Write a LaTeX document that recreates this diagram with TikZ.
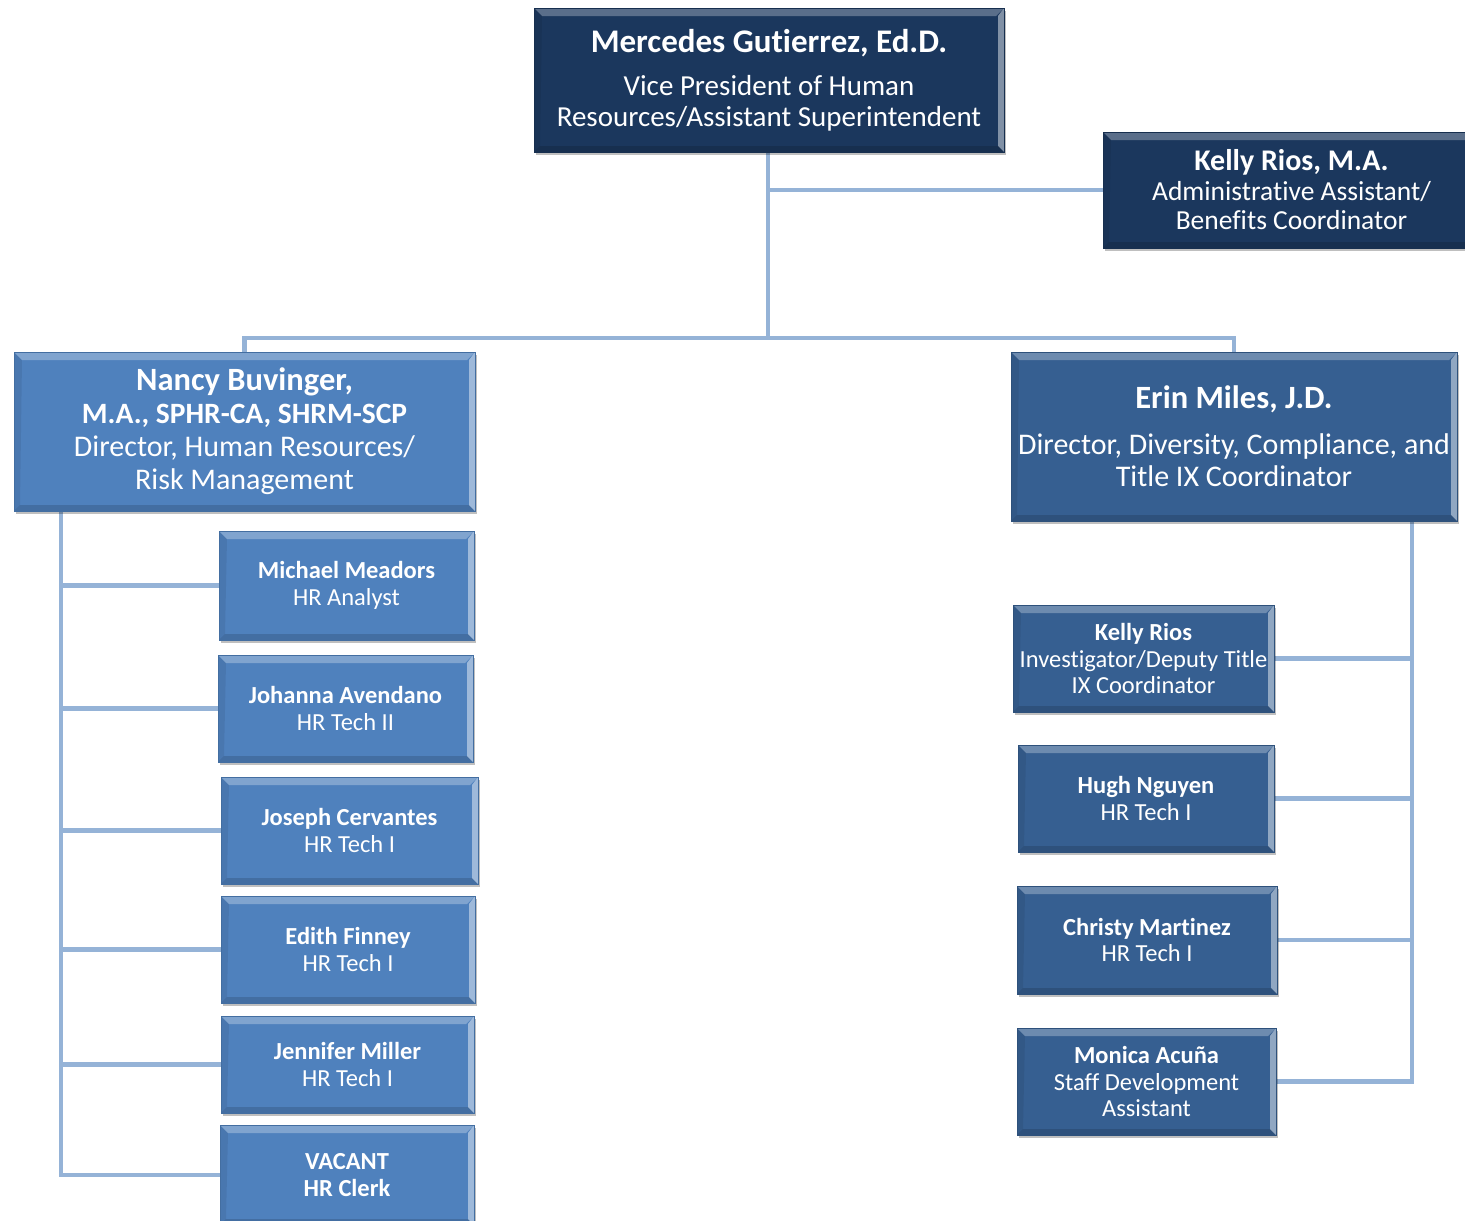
\documentclass[tikz,border=0pt]{standalone}
\usepackage{fontspec}
\setmainfont[Ligatures=NoCommon]{Carlito}
\usetikzlibrary{shadows,backgrounds}
\definecolor{navy}{RGB}{27,55,93}
\definecolor{midblue}{RGB}{79,129,189}
\definecolor{darkblue}{RGB}{54,95,145}
\definecolor{conncol}{RGB}{149,179,215}
\tikzset{
  bevelbox/.style={rectangle, inner sep=0pt, text=white, align=center,
    draw=#1!85!black, line width=0.6pt, fill=#1,
    drop shadow={shadow xshift=2pt, shadow yshift=-3pt, opacity=0.25, fill=black},
    path picture={
      \path (path picture bounding box.north west) coordinate (pA)
            (path picture bounding box.north east) coordinate (pB)
            (path picture bounding box.south east) coordinate (pC)
            (path picture bounding box.south west) coordinate (pD);
      \fill[white,opacity=.28] (pA) -- (pB) -- ([shift={(-8pt,-8pt)}]pB) -- ([shift={(8pt,-8pt)}]pA) -- cycle;
      \fill[white,opacity=.45] (pB) -- (pC) -- ([shift={(-6pt,6pt)}]pC) -- ([shift={(-6pt,-8pt)}]pB) -- cycle;
      \fill[black,opacity=.14] (pC) -- (pD) -- ([shift={(6pt,6pt)}]pD) -- ([shift={(-6pt,6pt)}]pC) -- cycle;
      \fill[black,opacity=.07] (pD) -- (pA) -- ([shift={(8pt,-8pt)}]pA) -- ([shift={(6pt,6pt)}]pD) -- cycle;
    }},
  navybox/.style={bevelbox=navy},
  midbox/.style={bevelbox=midblue},
  darkbox/.style={bevelbox=darkblue},
  conn/.style={draw=conncol, line width=4.5pt, line join=miter},
  bigfont/.style={font=\fontsize{29}{31}\selectfont},
  kfont/.style={font=\fontsize{27.5}{29.5}\selectfont},
  nfont/.style={font=\fontsize{30}{33}\selectfont},
  efont/.style={font=\fontsize{30}{32}\selectfont},
  smallfont/.style={font=\fontsize{24.5}{26.8}\selectfont}
}
\begin{document}
\begin{tikzpicture}[x=1pt,y=-1pt]
\useasboundingbox (0,0) rectangle (1465,1221);

% top level
\node[navybox, bigfont, minimum width=470, minimum height=144] (vp) at (769,80)
  {{\fontsize{33}{31}\selectfont\bfseries Mercedes Gutierrez, Ed.D.}\\[12pt]Vice President of Human\\Resources/Assistant Superintendent};
\node[navybox, kfont, minimum width=377, minimum height=116] (kr) at (1291.5,190)
  {{\fontsize{30}{29.5}\selectfont\bfseries Kelly Rios, M.A.}\\Administrative Assistant/\\Benefits Coordinator};

% directors
\node[midbox, nfont, minimum width=461, minimum height=159] (nb) at (244.5,431.5)
  {{\fontsize{32.5}{33}\selectfont\bfseries Nancy Buvinger,}\\{\fontsize{29.5}{33}\selectfont\bfseries M.A., SPHR-CA, SHRM-SCP}\\Director, Human Resources/\\Risk Management};
\node[darkbox, efont, minimum width=446, minimum height=169] (em) at (1234,436.5)
  {{\fontsize{32.5}{32}\selectfont\bfseries Erin Miles, J.D.}\\[14pt]Director, Diversity, Compliance, and\\Title IX Coordinator};

% left staff
\node[midbox, smallfont, minimum width=255, minimum height=109] (mm) at (346.5,585.5)
  {\textbf{Michael Meadors}\\HR Analyst};
\node[midbox, smallfont, minimum width=255, minimum height=107] (ja) at (345.5,708.5)
  {\textbf{Johanna Avendano}\\HR Tech II};
\node[midbox, smallfont, minimum width=257, minimum height=107] (jc) at (349.5,830.5)
  {\textbf{Joseph Cervantes}\\HR Tech I};
\node[midbox, smallfont, minimum width=254, minimum height=107] (ef) at (348,949.5)
  {\textbf{Edith Finney}\\HR Tech I};
\node[midbox, smallfont, minimum width=253, minimum height=97] (jm) at (347.5,1064.5)
  {\textbf{Jennifer Miller}\\HR Tech I};
\node[midbox, smallfont, minimum width=254, minimum height=100] (va) at (347,1175)
  {\textbf{VACANT}\\\textbf{HR Clerk}};

% right staff
\node[darkbox, smallfont, minimum width=261, minimum height=107] (kr2) at (1143.5,658.5)
  {\textbf{Kelly Rios}\\Investigator/Deputy Title\\IX Coordinator};
\node[darkbox, smallfont, minimum width=256, minimum height=107] (hn) at (1146,798.5)
  {\textbf{Hugh Nguyen}\\HR Tech I};
\node[darkbox, smallfont, minimum width=260, minimum height=108] (cm) at (1147,940)
  {\textbf{Christy Martinez}\\HR Tech I};
\node[darkbox, smallfont, minimum width=259, minimum height=107] (ma) at (1146.5,1081.5)
  {\textbf{Monica Acuña}\\Staff Development\\Assistant};

% connectors
\coordinate (jn) at (768,338);
\coordinate (lt) at (61,1175);
\coordinate (rt) at (1412,1081.5);
\begin{pgfonlayer}{background}
  \fill[white] (0,0) rectangle (1465,1221);
  \draw[conn] (vp.south -| jn) -- (jn);
  \draw[conn] (kr.west -| jn) -- (kr.west);
  \draw[conn] (nb.north) |- (jn) -| (em.north);
  \draw[conn] (nb.south -| lt) -- (lt) -- (va.west);
  \foreach \c in {mm,ja,jc,ef,jm} \draw[conn] (\c.west -| lt) -- (\c.west);
  \draw[conn] (em.south -| rt) -- (rt) -- (ma.east);
  \foreach \c in {kr2,hn,cm} \draw[conn] (\c.east -| rt) -- (\c.east);
\end{pgfonlayer}
\end{tikzpicture}
\end{document}
